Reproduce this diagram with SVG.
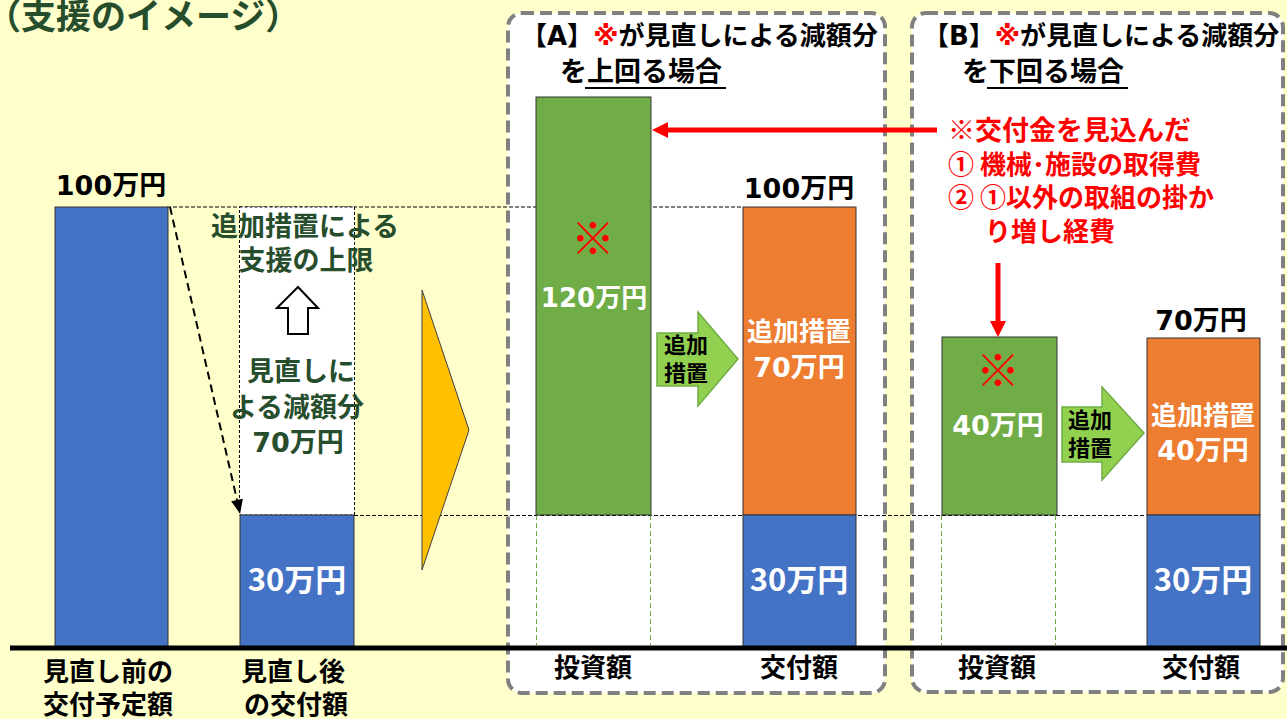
<svg xmlns="http://www.w3.org/2000/svg" width="1287" height="719" viewBox="0 0 1287 719">
<defs>
<style>
.j{font-family:"Noto Sans CJK JP","Noto Sans CJK SC",sans-serif;font-weight:bold}
.d{font-family:"DejaVu Sans","Noto Sans CJK JP",sans-serif;font-weight:bold}
.m{text-anchor:middle}
.gr{fill:#264D2C}
.wt{fill:#FFFFFF}
.bk{fill:#000000}
.rd{fill:#FF0000}
.bar{stroke:#333333;stroke-width:1}
.blue{fill:#4472C4}
.green{fill:#70AD47}
.orange{fill:#ED7D31}
.box{fill:#FFFFFF;stroke:#808080;stroke-width:4;stroke-dasharray:12 6}
.guide{stroke:#000000;stroke-width:1;stroke-dasharray:4 2;fill:none}
.gguide{stroke:#70AD47;stroke-width:1;stroke-dasharray:5 3;fill:none}
.garrow{fill:#92D050;stroke:#70AD47;stroke-width:1.5}
.red{stroke:#FF0000;stroke-width:5;fill:none}
</style>
<marker id="rh" markerUnits="userSpaceOnUse" markerWidth="16" markerHeight="18" refX="0" refY="8" orient="auto" overflow="visible">
<path d="M0,0 L16,8 L0,16 z" fill="#FF0000"/>
</marker>
<marker id="bh" markerUnits="userSpaceOnUse" markerWidth="14" markerHeight="14" refX="0" refY="6" orient="auto" overflow="visible">
<path d="M0,0 L14,6 L0,12 z" fill="#000000"/>
</marker>
</defs>
<rect x="0" y="0" width="1287" height="719" fill="#FFFFCC"/>
<text class="j gr" x="-14" y="29" font-size="35">（支援のイメージ）</text>

<g id="boxA">
<rect class="box" x="508" y="13" width="377" height="680" rx="14"/>
<text class="d bk" x="521" y="45" font-size="26">【A】<tspan class="rd">※</tspan>が見直しによる減額分</text>
<text class="j bk" x="560" y="81" font-size="27">を上回る場合</text>
<line x1="585" y1="88" x2="726" y2="88" stroke="#000" stroke-width="2"/>
</g>
<g id="boxB">
<rect class="box" x="912" y="13" width="371" height="679" rx="14"/>
<text class="d bk" x="923" y="45" font-size="26">【B】<tspan class="rd">※</tspan>が見直しによる減額分</text>
<text class="j bk" x="962" y="81" font-size="27">を下回る場合</text>
<line x1="987" y1="88" x2="1128" y2="88" stroke="#000" stroke-width="2"/>
</g>

<g id="guides">
<line class="guide" x1="167" y1="207" x2="742" y2="207"/>
<line class="guide" x1="354" y1="515.5" x2="1146" y2="515.5"/>
<line class="gguide" x1="536.5" y1="515" x2="536.5" y2="645"/>
<line class="gguide" x1="650.5" y1="515" x2="650.5" y2="645"/>
<line class="gguide" x1="941.5" y1="515" x2="941.5" y2="645"/>
<line class="gguide" x1="1055.5" y1="515" x2="1055.5" y2="645"/>
</g>

<g id="bar-before">
<rect class="bar blue" x="55" y="207" width="113" height="440"/>
<text class="d bk m" x="111" y="195" font-size="27">100万円</text>
</g>

<g id="bar-after">
<rect x="239.5" y="207" width="115" height="308" fill="#FFFFFF" stroke="#000" stroke-width="1" stroke-dasharray="3 2"/>
<rect class="bar blue" x="240" y="515" width="114" height="132"/>
<text class="j wt m" x="297" y="591" font-size="31">30万円</text>
<text class="j gr m" x="305" y="236" font-size="27">追加措置による</text>
<text class="j gr m" x="306" y="270" font-size="27">支援の上限</text>
<polygon points="298,287 318,308 308,308 308,334 288,334 288,308 277,308" fill="#FFFFFF" stroke="#000" stroke-width="2"/>
<text class="j gr m" x="301" y="381" font-size="27">見直しに</text>
<text class="j gr m" x="297" y="417" font-size="27">よる減額分</text>
<text class="d gr m" x="298" y="452" font-size="27">70万円</text>
</g>

<g id="big-arrow">
<polygon points="422,290 469,430 422,570" fill="#FFC000" stroke="#404040" stroke-width="1"/>
</g>

<g id="A-invest">
<rect class="bar green" x="536" y="97" width="115" height="418"/>
<text class="j rd m" x="593" y="255" font-size="44">※</text>
<text class="d wt m" x="594" y="307" font-size="26">120万円</text>
</g>
<g id="A-arrow">
<polygon class="garrow" points="657,333 698,333 698,312 738,359 698,406 698,386 657,386"/>
<text class="j bk m" x="686" y="353" font-size="22">追加</text>
<text class="j bk m" x="686" y="381" font-size="22">措置</text>
</g>
<g id="A-grant">
<rect class="bar orange" x="743" y="207" width="113" height="308"/>
<rect class="bar blue" x="743" y="515" width="113" height="132"/>
<text class="d bk m" x="799" y="198" font-size="27">100万円</text>
<text class="j wt m" x="799" y="341" font-size="26">追加措置</text>
<text class="d wt m" x="799" y="377" font-size="27">70万円</text>
<text class="j wt m" x="799" y="591" font-size="31">30万円</text>
</g>

<g id="B-invest">
<rect class="bar green" x="942" y="337" width="115" height="178"/>
<text class="j rd m" x="998" y="387" font-size="44">※</text>
<text class="d wt m" x="998" y="435" font-size="27">40万円</text>
</g>
<g id="B-arrow">
<polygon class="garrow" points="1062,407 1102,407 1102,387 1144,433 1102,480 1102,462 1062,462"/>
<text class="j bk m" x="1090" y="428" font-size="22">追加</text>
<text class="j bk m" x="1090" y="456" font-size="22">措置</text>
</g>
<g id="B-grant">
<rect class="bar orange" x="1147" y="338" width="113" height="177"/>
<rect class="bar blue" x="1147" y="515" width="113" height="132"/>
<text class="d bk m" x="1201" y="330" font-size="27">70万円</text>
<text class="j wt m" x="1203" y="425" font-size="26">追加措置</text>
<text class="d wt m" x="1203" y="460" font-size="27">40万円</text>
<text class="j wt m" x="1203" y="591" font-size="31">30万円</text>
</g>

<g id="note">
<text class="j rd" x="948" y="140" font-size="27">※交付金を見込んだ</text>
<text class="j rd" x="948" y="174" font-size="26">① 機械･施設の取得費</text>
<text class="j rd" x="948" y="207" font-size="26">② ①以外の取組の掛か</text>
<text class="j rd" x="985" y="241" font-size="26">り増し経費</text>
</g>

<g id="connectors">
<line class="red" x1="937" y1="130" x2="668" y2="130" marker-end="url(#rh)"/>
<line class="red" x1="998" y1="263" x2="998" y2="321" marker-end="url(#rh)"/>
<line x1="170" y1="207" x2="237" y2="500" stroke="#000" stroke-width="2" stroke-dasharray="8 5" marker-end="url(#bh)"/>
</g>

<g id="baseline">
<rect x="10" y="645.5" width="1277" height="5" fill="#000"/>
</g>
<g id="labels">
<text class="j bk m" x="108" y="681" font-size="26">見直し前の</text>
<text class="j bk m" x="108" y="714" font-size="26">交付予定額</text>
<text class="j bk m" x="293" y="681" font-size="26">見直し後</text>
<text class="j bk m" x="296" y="714" font-size="26">の交付額</text>
<text class="j bk m" x="593" y="677" font-size="26">投資額</text>
<text class="j bk m" x="799" y="677" font-size="26">交付額</text>
<text class="j bk m" x="997" y="677" font-size="26">投資額</text>
<text class="j bk m" x="1201" y="677" font-size="26">交付額</text>
</g>
</svg>
